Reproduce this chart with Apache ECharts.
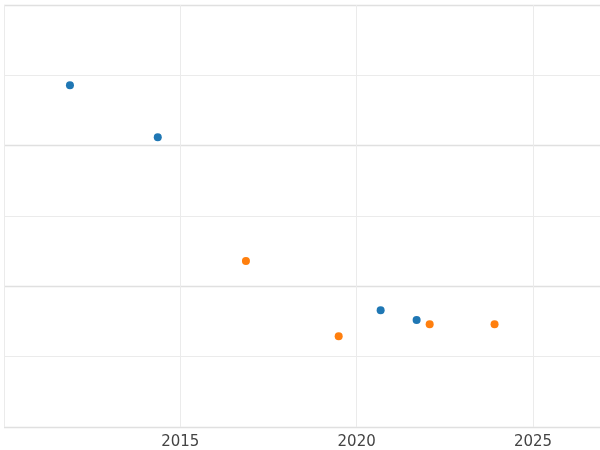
<!DOCTYPE html>
<html>
<head>
<meta charset="utf-8">
<script src="https://cdn.jsdelivr.net/npm/echarts@6/dist/echarts.min.js"></script>
<style>html,body{margin:0;padding:0;background:#fff}</style>
</head>
<body>
<div id="main" style="width:600px;height:450px"></div>
<script>
// blue series
const blueYears = [2011.87, 2014.36, 2020.68, 2021.70];
const blueValues = [4.86, 4.12, 1.66, 1.52];
// orange series
const orangeYears = [2016.86, 2019.49, 2022.07, 2023.91];
const orangeValues = [2.36, 1.29, 1.46, 1.46];

const pairs = (xs, ys) => xs.map((x, i) => [x, ys[i]]);

const myChart = echarts.init(document.getElementById('main'));
myChart.setOption({
    animation: false,
    grid: {left: 4, right: 0, top: 5, bottom: 23},
    xAxis: {
        type: 'value', min: 2010, max: 2026.9, interval: 5,
        axisLine: {show: false}, axisTick: {show: false},
        axisLabel: {showMinLabel: false, showMaxLabel: false, color: '#444', fontSize: 15, fontFamily: 'DejaVu Sans',
            formatter: v => String(v)},
        splitLine: {lineStyle: {color: '#ebebeb'}}
    },
    yAxis: {
        type: 'value', min: 0, max: 6, interval: 2,
        axisLine: {show: false}, axisTick: {show: false}, axisLabel: {show: false},
        splitLine: {lineStyle: {color: '#e0e0e0', width: 1.3}},
        minorTick: {show: false, splitNumber: 2},
        minorSplitLine: {show: true, lineStyle: {color: '#ebebeb'}}
    },
    series: [
        {type: 'scatter', symbolSize: 8, itemStyle: {color: '#1f77b4', opacity: 1}, data: pairs(blueYears, blueValues)},
        {type: 'scatter', symbolSize: 8, itemStyle: {color: '#ff7f0e', opacity: 1}, data: pairs(orangeYears, orangeValues)}
    ]
});
</script>
</body>
</html>
